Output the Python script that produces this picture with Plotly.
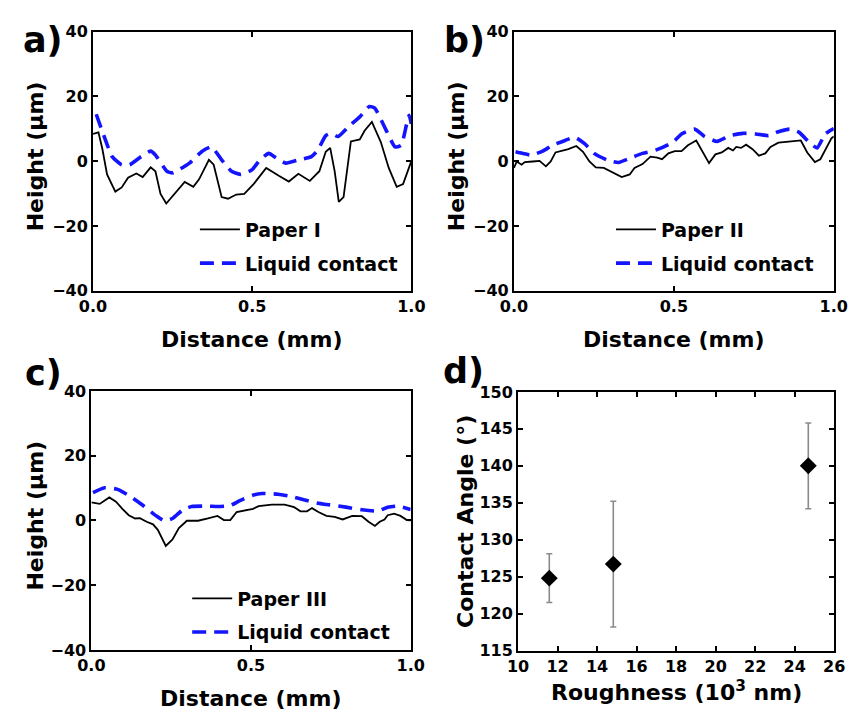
import plotly.graph_objects as go

W, H = 862, 719

# ---- surface profiles (distance in mm, height in µm) ----
a_paper_x = [0.0, 0.017, 0.029, 0.044, 0.07, 0.09, 0.11, 0.136, 0.156, 0.181, 0.196, 0.212,
             0.23, 0.252, 0.288, 0.315, 0.333, 0.364, 0.379, 0.404, 0.424, 0.45, 0.475, 0.505,
             0.544, 0.585, 0.615, 0.645, 0.681, 0.711, 0.731, 0.745, 0.759, 0.772, 0.787, 0.81,
             0.838, 0.853, 0.876, 0.904, 0.929, 0.954, 0.974, 1.0]
a_paper_y = [8.4, 8.9, 3.9, -4.1, -9.4, -8.1, -5.1, -3.8, -4.9, -1.9, -3.1, -10.1,
             -13.1, -10.6, -6.4, -7.9, -5.6, 0.4, -1.1, -11.1, -11.6, -10.3, -10.1, -7.0,
             -2.1, -4.6, -6.3, -3.9, -6.1, -3.1, 2.9, 4.1, -3.1, -12.6, -11.1, 6.1,
             6.7, 9.4, 12.1, 5.9, -2.1, -7.9, -7.1, 0.0]
a_liquid_x = [0.01, 0.034, 0.06, 0.09, 0.115, 0.151, 0.181, 0.196, 0.232, 0.25, 0.303, 0.343,
              0.372, 0.404, 0.435, 0.465, 0.5, 0.524, 0.552, 0.574, 0.605, 0.645, 0.686, 0.706,
              0.731, 0.748, 0.77, 0.80, 0.84, 0.868, 0.885, 0.919, 0.949, 0.968, 0.985, 0.993, 1.0]
a_liquid_y = [14.5, 7.9, 1.4, -1.1, -1.1, 1.4, 3.1, 1.9, -3.1, -3.6, -0.6, 3.1,
              4.4, 0.4, -3.1, -4.1, -2.6, 0.4, 2.4, 1.1, -0.6, 0.4, 1.4, 3.4,
              7.9, 8.6, 7.6, 10.4, 13.9, 16.9, 16.4, 9.9, 4.4, 4.9, 11.4, 14.2, 11.5]

b_paper_x = [0.0, 0.009, 0.024, 0.034, 0.059, 0.08, 0.1, 0.115, 0.13, 0.15, 0.17, 0.195,
             0.216, 0.236, 0.256, 0.281, 0.306, 0.337, 0.362, 0.377, 0.402, 0.427, 0.448, 0.463,
             0.483, 0.503, 0.524, 0.544, 0.57, 0.59, 0.61, 0.63, 0.65, 0.67, 0.685, 0.695,
             0.71, 0.726, 0.746, 0.766, 0.786, 0.802, 0.827, 0.867, 0.897, 0.917, 0.941, 0.958,
             0.976, 0.993, 1.0]
b_paper_y = [-2.1, -0.1, -1.1, -0.3, -0.1, 0.1, -1.6, -0.1, 2.7, 3.1, 3.7, 4.7,
             2.9, -0.1, -1.9, -2.1, -3.3, -4.9, -4.1, -2.1, -0.9, 1.4, 1.1, 0.6,
             2.4, 3.1, 3.1, 4.9, 6.4, 2.7, -0.6, 2.1, 2.7, 4.1, 3.3, 4.4,
             4.1, 5.1, 3.7, 1.7, 2.4, 4.4, 5.7, 6.1, 6.4, 2.7, -0.3, 0.6,
             4.1, 7.1, 7.6]
b_liquid_x = [0.005, 0.014, 0.054, 0.09, 0.12, 0.16, 0.19, 0.221, 0.251, 0.291, 0.327, 0.362,
              0.402, 0.443, 0.483, 0.503, 0.524, 0.565, 0.595, 0.635, 0.675, 0.716, 0.756, 0.796,
              0.827, 0.862, 0.892, 0.922, 0.948, 0.973, 1.0]
b_liquid_y = [2.9, 2.7, 1.9, 3.1, 4.9, 6.4, 7.4, 5.4, 2.4, 0.4, -0.4, 0.9,
              2.4, 3.4, 5.1, 6.4, 8.4, 9.9, 7.7, 6.1, 7.9, 8.6, 8.4, 7.9,
              9.1, 9.9, 8.9, 5.9, 4.1, 8.4, 10.1]

c_paper_x = [0.0, 0.026, 0.056, 0.077, 0.097, 0.117, 0.137, 0.152, 0.173, 0.193, 0.208, 0.233,
             0.254, 0.274, 0.299, 0.334, 0.365, 0.395, 0.415, 0.435, 0.455, 0.476, 0.506, 0.524,
             0.565, 0.605, 0.635, 0.655, 0.675, 0.691, 0.711, 0.736, 0.762, 0.787, 0.817, 0.847,
             0.868, 0.888, 0.903, 0.918, 0.928, 0.948, 0.968, 0.988, 1.0]
c_paper_y = [5.6, 5.1, 7.1, 5.8, 3.6, 1.6, 0.6, 0.7, -0.4, -1.2, -2.9, -7.9,
             -5.9, -2.4, -0.1, -0.1, 0.6, 1.4, 0.1, 0.1, 2.6, 3.1, 3.6, 4.4,
             4.9, 4.9, 4.1, 2.8, 2.8, 3.8, 2.6, 1.4, 1.1, 0.3, 1.4, 1.3,
             -0.4, -1.7, -0.4, 0.3, 1.6, 2.1, 1.4, 0.1, 0.0]
c_liquid_x = [0.005, 0.041, 0.082, 0.122, 0.162, 0.203, 0.228, 0.254, 0.284, 0.314, 0.365, 0.395,
              0.435, 0.465, 0.506, 0.534, 0.585, 0.625, 0.665, 0.706, 0.746, 0.797, 0.847, 0.898,
              0.928, 0.959, 1.0]
c_liquid_y = [8.6, 10.1, 9.6, 7.4, 4.6, 1.4, -0.1, 0.6, 3.1, 4.3, 4.4, 4.3,
              4.6, 6.1, 7.8, 8.3, 8.1, 7.4, 6.4, 5.4, 4.8, 4.1, 3.3, 2.9,
              4.1, 4.4, 3.4]

# ---- contact angle vs roughness ----
roughness = [11.58, 14.82, 24.69]
contact_angle = [124.8, 126.7, 140.0]
angle_err = [3.3, 8.5, 5.8]

paper_names = ["Paper I", "Paper II", "Paper III"]
liquid_name = "Liquid contact"

FONT = "DejaVu Sans"
BLUE = "#1414ff"


def px_x(p):
    return p / W


def px_y(p):
    return 1 - p / H


# plot-area boxes in pixels: (left, right, top, bottom)
boxes = {
    "a": (81.7, 410.7, 23.3, 289.3),
    "b": (516.7, 847.3, 23.3, 289.3),
    "c": (80.0, 410.0, 392.3, 658.3),
    "d": (521.0, 847.7, 393.3, 659.0),
}

fig = go.Figure()

profiles = [
    ("a", "x", "y", a_paper_x, a_paper_y, a_liquid_x, a_liquid_y, paper_names[0], "legend"),
    ("b", "x2", "y2", b_paper_x, b_paper_y, b_liquid_x, b_liquid_y, paper_names[1], "legend2"),
    ("c", "x3", "y3", c_paper_x, c_paper_y, c_liquid_x, c_liquid_y, paper_names[2], "legend3"),
]

for key, xa, ya, px_, py_, lx, ly, pname, leg in profiles:
    fig.add_trace(go.Scatter(
        x=px_, y=py_, mode="lines", name=pname, xaxis=xa, yaxis=ya,
        line=dict(color="black", width=1.8), legend=leg, legendgroup=key + "p",
    ))
    fig.add_trace(go.Scatter(
        x=lx, y=ly, mode="lines", name=liquid_name, xaxis=xa, yaxis=ya,
        line=dict(color=BLUE, width=3.6, dash="14px,8px", shape="spline", smoothing=0.5),
        legend=leg, legendgroup=key + "l",
    ))

fig.add_trace(go.Scatter(
    x=roughness, y=contact_angle, mode="markers", xaxis="x4", yaxis="y4", showlegend=False,
    marker=dict(symbol="diamond", size=13, color="black"),
    error_y=dict(type="data", array=angle_err, color="#8a8a8a", thickness=1.6, width=3),
))

axis_common = dict(
    showline=True, linecolor="black", linewidth=2, mirror="ticks",
    ticks="inside", ticklen=5, tickwidth=2, tickcolor="black",
    showgrid=False, zeroline=False,
    tickfont=dict(family=FONT, size=16, color="black", weight="bold"),
)

layout_axes = {}
names = {"a": ("xaxis", "yaxis", "x", "y"), "b": ("xaxis2", "yaxis2", "x2", "y2"),
         "c": ("xaxis3", "yaxis3", "x3", "y3"), "d": ("xaxis4", "yaxis4", "x4", "y4")}
for key, (xn, yn, xr, yr) in names.items():
    l, r, t, b = boxes[key]
    xd = [px_x(l), px_x(r)]
    yd = [px_y(b), px_y(t)]
    if key == "d":
        layout_axes[xn] = dict(axis_common, domain=xd, anchor=yr, range=[10, 26], dtick=2, tick0=10)
        layout_axes[yn] = dict(axis_common, domain=yd, anchor=xr, range=[115, 150], dtick=5, tick0=115)
    else:
        layout_axes[xn] = dict(axis_common, domain=xd, anchor=yr, range=[0, 1],
                               tickvals=[0, 0.5, 1.0], ticktext=["0.0", "0.5", "1.0"])
        layout_axes[yn] = dict(axis_common, domain=yd, anchor=xr, range=[-40, 40],
                               tickvals=[-40, -20, 0, 20, 40])

title_font = dict(family=FONT, size=22, color="black", weight="bold")
label_font = dict(family=FONT, size=35, color="black", weight="bold")

annotations = []


def add_text(text, x, y, font, angle=0):
    annotations.append(dict(text=text, x=px_x(x), y=px_y(y), xref="paper", yref="paper",
                            xanchor="center", yanchor="middle", showarrow=False,
                            font=font, textangle=angle))


# axis titles
add_text("Distance (mm)", 246.2, 339, title_font)
add_text("Distance (mm)", 682.0, 339, title_font)
add_text("Distance (mm)", 245.0, 708, title_font)
add_text("Roughness (10<sup>3</sup> nm)", 684.3, 701, title_font)
add_text("Height (\u03bcm)", 22, 151, title_font, -90)
add_text("Height (\u03bcm)", 457, 151, title_font, -90)
add_text("Height (\u03bcm)", 22, 520, title_font, -90)
add_text("Contact Angle (\u00b0)", 466, 526, title_font, -90)

# panel letters
add_text("a)", 30, 32, label_font)
add_text("b)", 466, 32, label_font)
add_text("c)", 30, 374, label_font)
add_text("d)", 465, 372, label_font)

legend_common = dict(
    font=dict(family=FONT, size=19, color="black", weight="bold"),
    bgcolor="rgba(0,0,0,0)", borderwidth=0, xanchor="left", yanchor="top",
    tracegroupgap=6, itemwidth=40,
)

fig.update_layout(
    width=W, height=H,
    margin=dict(l=0, r=0, t=0, b=0),
    paper_bgcolor="white", plot_bgcolor="white",
    annotations=annotations,
    legend=dict(legend_common, x=px_x(187), y=px_y(207)),
    legend2=dict(legend_common, x=px_x(617), y=px_y(207)),
    legend3=dict(legend_common, x=px_x(179), y=px_y(586)),
    **layout_axes,
)

fig.write_html("out.html")
